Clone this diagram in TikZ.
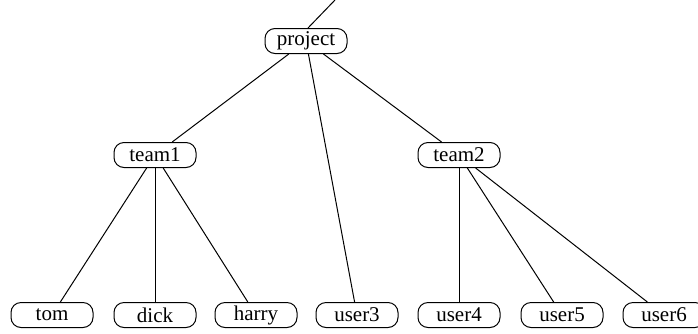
\documentclass[tikz,border=0pt]{standalone}
\usepackage{fontspec}
\newfontfamily\labelfont{Liberation Serif}
\begin{document}
\begin{tikzpicture}[x=1pt,y=-1pt,
  member/.style={draw,line width=1pt,rounded corners=10pt,minimum width=82pt,
    minimum height=25pt,inner sep=0pt,font=\labelfont\fontsize{21}{24}\selectfont},
  link/.style={line width=1pt}]
  \useasboundingbox (0,0) rectangle (698,333);
  % tree nodes
  \node[member] (project) at (306,41) {project};
  \node[member] (team1) at (155,155) {team1};
  \node[member] (team2) at (459,155) {team2};
  \node[member] (tom) at (52,315) {tom};
  \node[member] (dick) at (155,315) {dick};
  \node[member] (harry) at (256,315) {harry};
  \node[member] (user3) at (357,315) {user3};
  \node[member] (user4) at (459,315) {user4};
  \node[member] (user5) at (562,315) {user5};
  \node[member] (user6) at (664,315) {user6};
  \coordinate (parent) at (335,0);
  % connectors
  \draw[link] (parent) -- ([xshift=2pt]project.north);
  \draw[link] (project) -- (team1);
  \draw[link] (project) -- (user3);
  \draw[link] (project) -- (team2);
  \draw[link] (team1) -- (tom);
  \draw[link] (team1) -- (dick);
  \draw[link] (team1) -- (harry);
  \draw[link] (team2) -- (user4);
  \draw[link] (team2) -- (user5);
  \draw[link] (team2) -- (user6);
\end{tikzpicture}
\end{document}
